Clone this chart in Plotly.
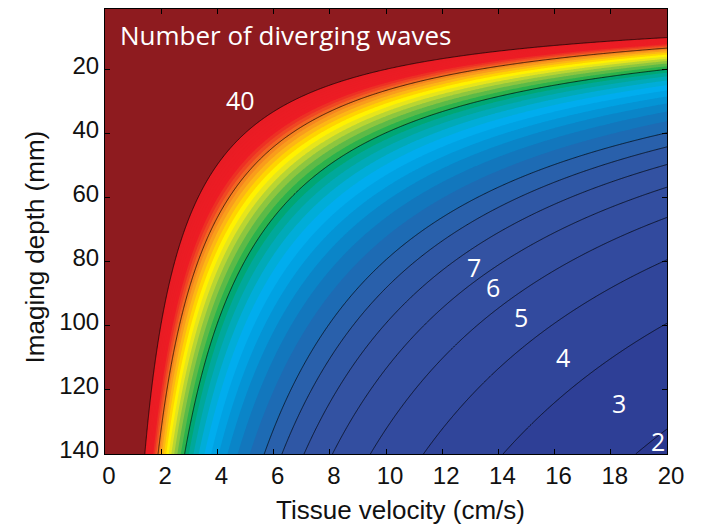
import numpy as np
import plotly.graph_objects as go

# ---- values ----
# contour line levels and the tissue velocity (cm/s) where each line meets the 140 mm edge
line_levels = [3, 4, 5, 6, 7, 8, 9, 10, 20, 30, 40]
line_v_at_140mm = [18.8, 14.1, 11.3, 9.4, 8.1, 7.05, 6.25, 5.65, 2.9, 1.95, 1.38]
edge_depth_mm = 140.0

# axis ticks
x_ticks = [0, 2, 4, 6, 8, 10, 12, 14, 16, 18, 20]
y_ticks = [20, 40, 60, 80, 100, 120, 140]

# in-plot contour labels
label_text = ["40", "7", "6", "5", "4", "3", "2"]
label_v = [4.81, 13.13, 13.80, 14.80, 16.29, 18.28, 19.67]
label_depth = [29.4, 81.6, 87.8, 97.2, 109.7, 124.1, 135.9]

# ---- field: N = K / (v * depth), K from the read crossings ----
K = float(np.mean([lv * v * edge_depth_mm for lv, v in zip(line_levels, line_v_at_140mm)]))
vel = np.linspace(0.0, 20.0, 501)
depth = np.linspace(1.0, 140.0, 500)
V, D = np.meshgrid(vel, depth)
with np.errstate(divide="ignore"):
    Z = np.where(V > 0, K / np.maximum(V * D, 1e-9), 1e6)
Z = np.minimum(Z, 41.0)

# colour for each filled band, keyed by band mid value
band_mid = [0.5, 2.5, 3.5, 4.5, 5.5, 6.5, 7.5, 8.5, 9.5, 10.5, 11.5, 12.5, 13.5, 14.5,
            15.5, 16.5, 17.5, 18.5, 19.5, 20.5, 21.5, 22.5, 23.5, 24.5, 25.5, 26.5,
            27.5, 28.5, 29.5, 30.5, 31.5, 32.5, 33.5, 39.5, 40.5]
band_col = ["#2B3990", "#2B3990", "#2E3F96", "#30459A", "#324A9E", "#334EA0", "#3352A2",
            "#2F57A5", "#2960AB", "#1D6BB4", "#1277BD", "#0A85C8", "#0494D5", "#00A2E3",
            "#00ADEE", "#00ADD8", "#00AAB8", "#00A89A", "#00A774", "#2BB24C", "#5CBA47",
            "#8DC63F", "#B9D532", "#E6E51C", "#FFF200", "#FFD400", "#FDB714", "#F99D1C",
            "#F6851F", "#F26522", "#EF4823", "#ED3024", "#ED1C24", "#E81C24", "#8E1B1F"]
fill_start, fill_end, fill_size = 1, 40, 1
lo = fill_start - fill_size / 2
hi = fill_end + fill_size / 2
colorscale = [[(m - lo) / (hi - lo), c] for m, c in zip(band_mid, band_col)]

fig = go.Figure()
fig.add_trace(go.Contour(
    x=vel, y=depth, z=Z,
    contours=dict(start=fill_start, end=fill_end, size=fill_size, coloring="fill", showlines=False),
    colorscale=colorscale, showscale=False, line=dict(width=0), hoverinfo="skip",
))
low_levels = [lv for lv in line_levels if lv <= 10]
high_levels = [lv for lv in line_levels if lv > 10]
fig.add_trace(go.Contour(
    x=vel, y=depth, z=Z,
    contours=dict(start=min(low_levels), end=max(low_levels), size=1, coloring="none"),
    line=dict(color="rgba(0,0,0,0.85)", width=0.8), showscale=False, hoverinfo="skip",
))
fig.add_trace(go.Contour(
    x=vel, y=depth, z=Z,
    contours=dict(start=min(high_levels), end=max(high_levels), size=10, coloring="none"),
    line=dict(color="rgba(0,0,0,0.85)", width=0.8), showscale=False, hoverinfo="skip",
))

white_font = dict(family="Open Sans", size=25, color="white")
for t, xv, yv in zip(label_text, label_v, label_depth):
    fig.add_annotation(x=xv, y=yv, text=t, showarrow=False, font=white_font,
                       xanchor="center", yanchor="middle")
fig.add_annotation(x=0.45, y=9.0, text="Number of diverging waves", showarrow=False,
                   font=dict(family="Open Sans", size=26, color="white"),
                   xanchor="left", yanchor="middle")

axis_font = dict(family="Liberation Sans, Arial", size=26, color="#111")
fig.add_annotation(xref="paper", yref="paper", x=0.525, y=-0.126, text="Tissue velocity (cm/s)",
                   showarrow=False, font=axis_font, xanchor="center", yanchor="middle")
fig.add_annotation(xref="paper", yref="paper", x=-0.124, y=0.465, text="Imaging depth (mm)",
                   showarrow=False, font=axis_font, xanchor="center", yanchor="middle",
                   textangle=-90)

tick_font = dict(family="Liberation Sans, Arial", size=24, color="#111")
fig.update_xaxes(range=[0, 20], tickvals=x_ticks, ticks="inside", ticklen=5, tickcolor="black",
                 showline=True, linecolor="black", linewidth=1, mirror="ticks",
                 showgrid=False, zeroline=False, tickfont=tick_font, ticklabelshift=4)
fig.update_yaxes(range=[140, 1], tickvals=y_ticks, ticks="inside", ticklen=5, tickcolor="black",
                 showline=True, linecolor="black", linewidth=1, mirror="ticks",
                 showgrid=False, zeroline=False, tickfont=tick_font, ticklabelshift=4)
# page body adds an 8px offset, so margins are set to land the plot area where the reference has it
fig.update_layout(width=701, height=527, margin=dict(l=97, r=42, t=1, b=81),
                  paper_bgcolor="white", plot_bgcolor="white", showlegend=False)
fig.write_html("out.html")
